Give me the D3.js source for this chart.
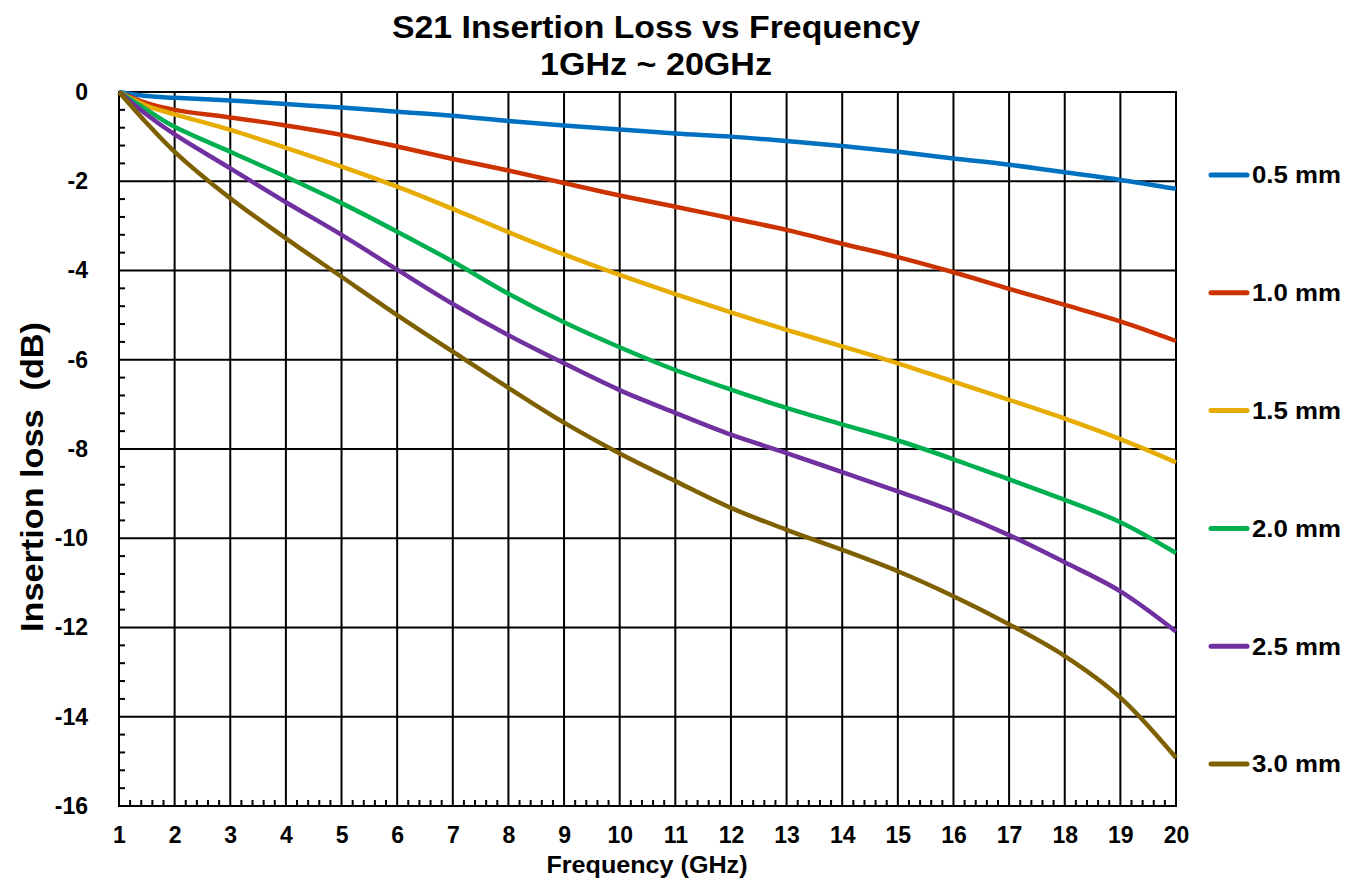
<!DOCTYPE html>
<html>
<head>
<meta charset="utf-8">
<script src="https://cdn.jsdelivr.net/npm/d3@7"></script>
<style>
  body { margin: 0; background: #fff; }
  text { font-family: "Liberation Sans", Arial, sans-serif; font-weight: bold; fill: #000; }
</style>
</head>
<body>
<div id="chart"></div>
<script>
// DATA
const freqs = [1, 1.5, 2, 3, 4, 5, 6, 7, 8, 9, 10, 11, 12, 13, 14, 15, 16, 17, 18, 19, 20];
const loss05 = [0, -0.09, -0.13, -0.19, -0.27, -0.35, -0.44, -0.53, -0.65, -0.75, -0.84, -0.93, -1.0, -1.10, -1.21, -1.34, -1.49, -1.63, -1.80, -1.97, -2.17];
const loss10 = [0, -0.25, -0.40, -0.57, -0.75, -0.96, -1.22, -1.50, -1.76, -2.04, -2.32, -2.57, -2.83, -3.09, -3.40, -3.70, -4.04, -4.41, -4.77, -5.14, -5.58];
const loss15 = [0, -0.31, -0.50, -0.85, -1.25, -1.67, -2.12, -2.62, -3.14, -3.64, -4.10, -4.53, -4.94, -5.33, -5.70, -6.08, -6.49, -6.90, -7.32, -7.78, -8.30];
const loss20 = [0, -0.40, -0.78, -1.34, -1.90, -2.49, -3.13, -3.80, -4.52, -5.16, -5.72, -6.23, -6.67, -7.08, -7.45, -7.81, -8.23, -8.68, -9.14, -9.64, -10.33];
const loss25 = [0, -0.51, -0.95, -1.71, -2.47, -3.20, -3.98, -4.75, -5.45, -6.08, -6.68, -7.19, -7.68, -8.09, -8.52, -8.95, -9.40, -9.93, -10.54, -11.19, -12.09];
const loss30 = [0, -0.70, -1.34, -2.38, -3.28, -4.14, -5.00, -5.82, -6.63, -7.41, -8.10, -8.72, -9.32, -9.81, -10.26, -10.74, -11.30, -11.93, -12.64, -13.57, -14.92];

const seriesNames = ["0.5 mm", "1.0 mm", "1.5 mm", "2.0 mm", "2.5 mm", "3.0 mm"];
const seriesValues = [loss05, loss10, loss15, loss20, loss25, loss30];
const seriesColors = ["#0070C0", "#CC3300", "#E6AC00", "#00B050", "#7030A0", "#7F6000"];

const xTicks = d3.range(1, 21);
const yTicks = d3.range(0, -17, -2);

// SIZES
const width = 1359;
const height = 884;
const margin = { top: 92, right: 183, bottom: 78, left: 119 };
const plotW = width - margin.left - margin.right;
const plotH = height - margin.top - margin.bottom;

const svg = d3.select("#chart").append("svg")
    .attr("width", width)
    .attr("height", height);

const x = d3.scaleLinear().domain([1, 20]).range([0, plotW]);
const y = d3.scaleLinear().domain([0, -16]).range([0, plotH]);

const g = svg.append("g")
    .attr("transform", "translate(" + margin.left + "," + margin.top + ")");

// GRID
g.append("g").selectAll("line")
    .data(xTicks)
    .enter().append("line")
    .attr("x1", d => x(d)).attr("x2", d => x(d))
    .attr("y1", 0).attr("y2", plotH)
    .attr("stroke", "#000").attr("stroke-width", 2);

g.append("g").selectAll("line")
    .data(yTicks)
    .enter().append("line")
    .attr("x1", 0).attr("x2", plotW)
    .attr("y1", d => y(d)).attr("y2", d => y(d))
    .attr("stroke", "#000").attr("stroke-width", 2);

// MINOR TICKS (inside)
const xMinor = d3.range(1, 20.001, 0.2).filter(v => Math.abs(v - Math.round(v)) > 0.01);
g.append("g").selectAll("line")
    .data(xMinor)
    .enter().append("line")
    .attr("x1", d => x(d)).attr("x2", d => x(d))
    .attr("y1", plotH).attr("y2", plotH - 6)
    .attr("stroke", "#000").attr("stroke-width", 2);

const yMinor = d3.range(0, -16.001, -0.4).filter(v => Math.abs(v / 2 - Math.round(v / 2)) > 0.01);
g.append("g").selectAll("line")
    .data(yMinor)
    .enter().append("line")
    .attr("x1", 0).attr("x2", 6)
    .attr("y1", d => y(d)).attr("y2", d => y(d))
    .attr("stroke", "#000").attr("stroke-width", 2);

// BORDER
g.append("rect")
    .attr("width", plotW).attr("height", plotH)
    .attr("fill", "none").attr("stroke", "#000").attr("stroke-width", 2);

// AXES (labels only)
const xAxis = g.append("g")
    .attr("transform", "translate(0," + plotH + ")")
    .call(d3.axisBottom(x).tickValues(xTicks).tickSize(0).tickPadding(21).tickFormat(d => String(d)));
xAxis.select(".domain").remove();
xAxis.selectAll("text").style("font-size", "23px");

const yAxis = g.append("g")
    .call(d3.axisLeft(y).tickValues(yTicks).tickSize(0).tickPadding(31).tickFormat(d => String(d)));
yAxis.select(".domain").remove();
yAxis.selectAll("text").style("font-size", "23px");

// LINES
const line = d3.line()
    .x((d, i) => x(freqs[i]))
    .y(d => y(d))
    .curve(d3.curveCatmullRom.alpha(0.5));

g.append("g").selectAll("path")
    .data(seriesValues)
    .enter().append("path")
    .attr("d", line)
    .attr("fill", "none")
    .attr("stroke", (d, i) => seriesColors[i])
    .attr("stroke-width", 4.5);

// LEGEND
const legend = svg.append("g").selectAll("g")
    .data(seriesNames)
    .enter().append("g")
    .attr("transform", (d, i) => "translate(1209," + (175 + i * 117.8) + ")");

legend.append("line")
    .attr("x1", 2).attr("x2", 38)
    .attr("stroke", (d, i) => seriesColors[i])
    .attr("stroke-width", 5)
    .attr("stroke-linecap", "round");

legend.append("text")
    .attr("x", 43).attr("dy", "0.35em")
    .style("font-size", "24px")
    .attr("textLength", 89)
    .attr("lengthAdjust", "spacingAndGlyphs")
    .text(d => d);

// TITLES
svg.append("text")
    .attr("x", 656).attr("y", 38)
    .attr("text-anchor", "middle")
    .style("font-size", "31px")
    .attr("textLength", 528)
    .attr("lengthAdjust", "spacingAndGlyphs")
    .text("S21 Insertion Loss vs Frequency");

svg.append("text")
    .attr("x", 656).attr("y", 75)
    .attr("text-anchor", "middle")
    .style("font-size", "31px")
    .attr("textLength", 232)
    .attr("lengthAdjust", "spacingAndGlyphs")
    .text("1GHz ~ 20GHz");

svg.append("text")
    .attr("x", 647).attr("y", 873)
    .attr("text-anchor", "middle")
    .style("font-size", "24px")
    .attr("textLength", 201)
    .attr("lengthAdjust", "spacingAndGlyphs")
    .text("Frequency (GHz)");

svg.append("text")
    .attr("transform", "translate(43,477) rotate(-90)")
    .attr("text-anchor", "middle")
    .style("font-size", "31px")
    .style("white-space", "pre")
    .attr("textLength", 310)
    .attr("lengthAdjust", "spacingAndGlyphs")
    .text("Insertion loss  (dB)");
</script>
</body>
</html>
